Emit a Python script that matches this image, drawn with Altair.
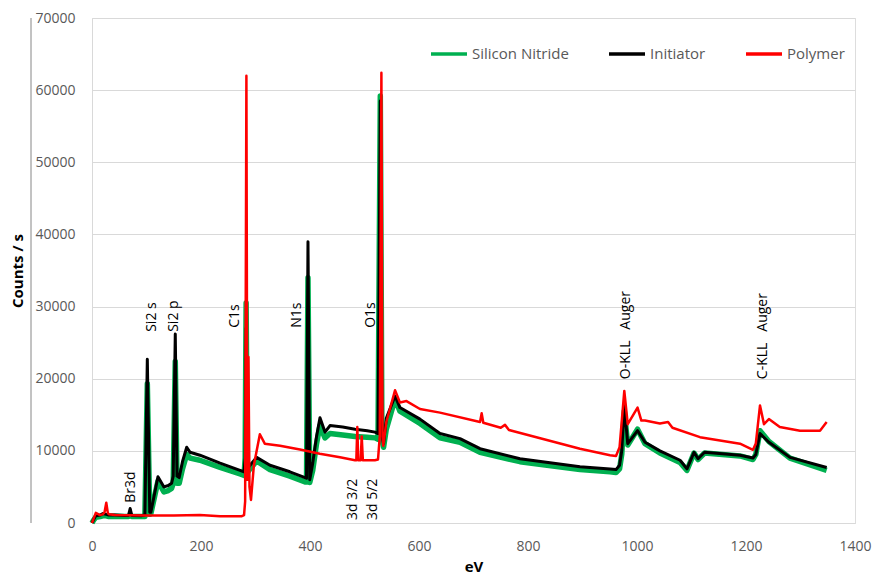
import altair as alt
import pandas as pd

# ---------------- data ----------------
series_names = ["Silicon Nitride", "Initiator", "Polymer"]
series_colors = ["#00b050", "#000000", "#ff0000"]

sin_ev = [0, 3, 7, 15, 20, 26, 31, 42, 60, 67, 70, 73, 90, 97, 101.5, 106, 108, 121, 132, 140,
          146, 149, 152.8, 156, 160, 166, 173.8, 180, 198, 235, 271.6, 279, 281, 282.8, 285, 290,
          302, 326.6, 363, 391, 393.6, 396.3, 399.5, 405, 412, 418.3, 427.5, 436.7, 460, 482.6,
          505, 519.3, 524.8, 529, 532, 535, 540, 556, 565, 601.8, 638.5, 675.2, 712, 785.3, 895.4,
          950.5, 961.5, 968, 972, 976.7, 983, 1001, 1014.7, 1042, 1079, 1091.7, 1104.6, 1112, 1124,
          1189, 1212.8, 1218, 1225.7, 1242, 1280.7, 1348]
sin_ct = [0, 400, 800, 900, 1000, 1000, 900, 950, 900, 900, 1100, 900, 900, 900, 19300, 1200, 1300,
          5800, 4300, 4500, 4800, 5500, 22400, 5500, 5500, 7500, 9500, 9000, 8700, 7700, 6800, 6600,
          9000, 30500, 7000, 7500, 8600, 7400, 6500, 5700, 5700, 34000, 5600, 7300, 11000, 13500,
          11800, 12400, 12200, 12000, 11900, 11800, 11600, 59200, 11500, 10500, 13000, 17200, 15500,
          13800, 11800, 11200, 9800, 8500, 7400, 7100, 7000, 7500, 9500, 15500, 10800, 13000, 11000,
          9700, 8400, 7300, 9700, 8800, 9700, 9300, 8800, 9500, 12800, 11300, 9000, 7300]

ini_ev = [0, 3, 7, 15, 20, 26, 31, 42, 60, 67, 70, 73, 90, 97, 101.5, 106, 108, 121, 132, 140,
          146, 149, 152.8, 156, 160, 166, 173.8, 180, 198, 235, 271.6, 279, 281, 282.8, 285, 290,
          302, 326.6, 363, 391, 393.6, 396.3, 399.5, 405, 412, 418.3, 427.5, 436.7, 460, 482.6,
          505, 519.3, 524.8, 529, 532, 535, 540, 556, 565, 601.8, 638.5, 675.2, 712, 785.3, 895.4,
          950.5, 961.5, 968, 972, 976.7, 983, 1001, 1014.7, 1042, 1079, 1091.7, 1104.6, 1112, 1124,
          1189, 1212.8, 1218, 1225.7, 1242, 1280.7, 1348]
ini_ct = [0, 500, 1000, 1100, 1300, 1200, 1100, 1100, 1050, 1050, 2000, 1050, 1000, 1100, 22700,
          1500, 1500, 6400, 5000, 5200, 5500, 6500, 26200, 6500, 6300, 8500, 10500, 9800, 9400,
          8300, 7300, 7100, 9000, 27000, 7500, 8000, 9100, 8000, 7100, 6300, 6200, 39000, 6000,
          8300, 12000, 14600, 12600, 13500, 13300, 13000, 12800, 12600, 12400, 58500, 12000, 11000,
          14500, 17600, 16000, 14400, 12400, 11700, 10300, 8900, 7800, 7500, 7400, 8000, 10000,
          16300, 11000, 12800, 11200, 10000, 8700, 7500, 9800, 8900, 9800, 9400, 9000, 9500, 12400,
          11200, 9100, 7700]

pol_ev = [0, 3, 7, 14.7, 20, 23, 26.2, 29, 31, 42, 100, 150, 198, 235, 275, 279, 281, 283.3, 285,
          287, 289, 291.7, 297, 308, 317, 345, 381.6, 418, 455, 482.6, 485, 486.8, 488.5, 493,
          494.9, 497, 519, 524.8, 528, 531, 533, 534.5, 540, 556, 565, 577, 601.8, 638.5, 712, 715,
          718, 750, 757.8, 765, 895.4, 950.5, 961.5, 968, 976.7, 983, 1001, 1008, 1014.7, 1042, 1057,
          1065, 1115.6, 1189, 1212.8, 1218, 1225.7, 1233, 1242, 1262, 1299, 1335.8, 1348]
pol_ct = [0, 600, 1400, 1100, 1200, 1500, 2800, 1400, 1200, 1100, 1050, 1050, 1100, 950, 950, 1100,
          3000, 62000, 6000, 23000, 5000, 3200, 8000, 12300, 11000, 10700, 10200, 9600, 9100, 8700,
          8700, 13300, 8700, 8700, 12000, 8700, 8700, 8800, 12000, 62400, 12000, 10700, 14000, 18400,
          16700, 16900, 15800, 15300, 14000, 15200, 13900, 13200, 13600, 12900, 10300, 9400, 9300,
          10500, 18300, 13700, 16000, 14200, 14200, 13800, 14000, 13200, 11900, 11000, 10150, 11000,
          16300, 13700, 14400, 13300, 12800, 12800, 14000]

NB3 = "\u00a0\u00a0\u00a0"
ann_text = ["Br3d", "Si2 s", "Si2 p", "C1s", "N1s", "O1s", "3d 3/2", "3d 5/2",
            "O-KLL" + NB3 + "Auger", "C-KLL" + NB3 + "Auger"]
ann_ev = [71, 111, 150.5, 261.5, 377, 512.8, 478, 516, 979.5, 1231]
ann_ct = [2800, 26500, 26500, 27050, 27050, 27050, 410, 410, 19940, 19940]

x_ticks = [0, 200, 400, 600, 800, 1000, 1200, 1400]
y_ticks = [0, 10000, 20000, 30000, 40000, 50000, 60000, 70000]

# ---------------- build tables ----------------
rows = []
for name, evs, cts in zip(series_names, [sin_ev, ini_ev, pol_ev], [sin_ct, ini_ct, pol_ct]):
    assert len(evs) == len(cts), name
    for e, c in zip(evs, cts):
        rows.append({"series": name, "eV": e, "counts": c})
df = pd.DataFrame(rows)
ann_df = pd.DataFrame({"label": ann_text, "eV": ann_ev, "counts": ann_ct})

FONT = "Open Sans"
W, H = 763, 505

x_scale = alt.Scale(domain=[0, 1400], nice=False, zero=False)
y_scale = alt.Scale(domain=[0, 70000], nice=False)

x_enc = alt.X("eV:Q", scale=x_scale, axis=alt.Axis(
    values=x_ticks, format="d", title="eV", grid=False, ticks=False, domain=True,
    domainColor="#d9d9d9", labelFlush=False,
    labelColor="#595959", labelFont=FONT, labelFontSize=14, labelPadding=16,
    titleFont=FONT, titleFontSize=15, titleFontWeight="bold", titleColor="#000000",
    titlePadding=6))
y_enc = alt.Y("counts:Q", scale=y_scale, axis=alt.Axis(
    values=y_ticks, format="d", title="Counts / s", grid=True, gridColor="#d9d9d9",
    ticks=False, domain=True, domainColor="#d9d9d9", labelFlush=False,
    labelColor="#595959", labelFont=FONT, labelFontSize=14, labelPadding=17,
    titleFont=FONT, titleFontSize=15, titleFontWeight="bold", titleColor="#000000",
    titleX=-75, titleY=H / 2, titleAngle=270, titleAlign="center", titleBaseline="middle"))

color_enc = alt.Color("series:N", scale=alt.Scale(domain=series_names, range=series_colors),
                      legend=alt.Legend(title=None, orient="none", legendX=337, legendY=16,
                                        direction="horizontal", symbolType="stroke",
                                        symbolSize=1296, symbolStrokeWidth=3.5,
                                        labelFont=FONT, labelFontSize=15, labelColor="#595959",
                                        columnPadding=33, labelOffset=3))

widths = [5.5, 3, 2.5]
layers = []
for name, w in zip(series_names, widths):
    layers.append(
        alt.Chart(df).transform_filter(alt.datum.series == name)
        .mark_line(strokeWidth=w, strokeJoin="round")
        .encode(x=x_enc, y=y_enc, color=color_enc)
    )

labels = alt.Chart(ann_df).mark_text(angle=270, align="left", baseline="middle",
                                     font=FONT, fontSize=14, color="#000000").encode(
    x=alt.X("eV:Q", scale=x_scale), y=alt.Y("counts:Q", scale=y_scale), text="label:N")

axis_line = alt.Chart(pd.DataFrame({"k": [0]})).mark_rule(color="#868686", strokeWidth=1).encode(
    x=alt.value(-61), y=alt.value(0), y2=alt.value(H))

chart = alt.layer(axis_line, *layers, labels).properties(
    width=W, height=H,
    autosize=alt.AutoSizeParams(type="none"),
    padding={"left": 84, "top": 10, "right": 20, "bottom": 54},
).configure_view(strokeWidth=0).configure(background="white")

chart.save("out.html", embed_options={"renderer": "svg", "actions": False})
